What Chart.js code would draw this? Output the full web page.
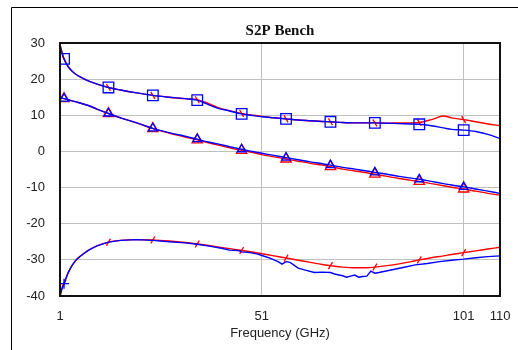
<!DOCTYPE html>
<html>
<head>
<meta charset="utf-8">
<title>S2P Bench</title>
<script src="https://cdn.jsdelivr.net/npm/chart.js@4.4.1/dist/chart.umd.min.js"></script>
<style>
  body { margin: 0; background: #fff; }
  #chart { display: block; }
</style>
</head>
<body>
<canvas id="chart" width="518" height="350"></canvas>
<script>
// Frequency grid (GHz) shared by the smooth traces
const freq = [1, 1.5, 2, 3, 4, 5, 6, 8, 10, 13, 16, 20, 24, 28, 32, 35, 37, 40, 43, 46, 49, 51, 54, 57, 60, 63, 66, 68, 71, 74, 77, 79, 82, 85, 88, 90, 93, 96, 98, 101, 104, 107, 110];

// Upper trace (squares = measured, red = simulated)
const upperMeas = [29.5, 27.3, 25.6, 23.5, 22.2, 21.3, 20.6, 19.5, 18.7, 17.7, 17.0, 16.2, 15.5, 15.0, 14.6, 14.2, 13.3, 12.0, 11.2, 10.4, 9.9, 9.6, 9.3, 9.0, 8.7, 8.5, 8.3, 8.2, 8.0, 7.9, 7.9, 7.9, 7.8, 7.7, 7.6, 7.5, 7.1, 6.5, 6.1, 5.9, 5.5, 4.7, 3.6];
const upperSim = [29.5, 27.3, 25.6, 23.5, 22.2, 21.3, 20.6, 19.5, 18.7, 17.7, 17.0, 16.2, 15.5, 15.0, 14.6, 14.3, 13.6, 12.2, 11.3, 10.5, 10.0, 9.7, 9.3, 9.0, 8.7, 8.5, 8.3, 8.2, 8.0, 7.9, 7.9, 7.9, 7.8, 7.9, 7.9, 8.0, 8.8, 9.8, 9.3, 8.8, 8.2, 7.6, 7.1];

// Middle trace (triangles)
const midMeas = [14.8, 14.7, 14.6, 14.3, 14.0, 13.7, 13.4, 12.7, 11.8, 10.5, 9.3, 7.9, 6.4, 5.2, 4.2, 3.4, 2.8, 2.1, 1.3, 0.6, -0.1, -0.5, -1.1, -1.7, -2.3, -2.9, -3.4, -3.8, -4.4, -4.9, -5.4, -5.8, -6.3, -6.9, -7.4, -7.7, -8.3, -8.9, -9.3, -9.8, -10.4, -11.0, -11.6];
const midSim = [14.8, 14.7, 14.6, 14.3, 14.0, 13.7, 13.4, 12.7, 11.8, 10.5, 9.3, 7.9, 6.3, 5.1, 4.0, 3.2, 2.6, 1.8, 1.0, 0.3, -0.4, -0.9, -1.5, -2.1, -2.7, -3.3, -3.8, -4.2, -4.9, -5.4, -5.9, -6.3, -6.9, -7.5, -8.0, -8.3, -8.9, -9.5, -9.9, -10.4, -11.0, -11.6, -12.1];

// Lower trace, simulated (smooth)
const lowSim = [-40, -37.8, -36.5, -33.6, -31.5, -30.0, -29.0, -27.4, -26.2, -25.1, -24.6, -24.4, -24.5, -24.8, -25.2, -25.6, -25.9, -26.4, -26.9, -27.4, -27.9, -28.3, -28.9, -29.5, -30.1, -30.7, -31.3, -31.6, -32.0, -32.2, -32.2, -32.0, -31.6, -31.1, -30.5, -30.0, -29.4, -28.9, -28.5, -28.0, -27.5, -27.0, -26.5];

// Lower trace, measured (noisy, own frequency grid)
const lowMeasFreq = [1, 1.5, 2, 3, 4, 5, 6, 8, 10, 13, 16, 20, 24, 28, 32, 35, 38, 41, 43, 45, 46, 48, 50, 51, 53, 55, 56, 57, 58, 60, 62, 64, 66, 68, 69, 71, 72, 73, 74, 75, 76, 77, 78, 79, 80, 83, 86, 89, 92, 95, 98, 101, 104, 107, 110];
const lowMeas = [-40, -38, -36.6, -33.6, -31.5, -30.0, -29.0, -27.4, -26.2, -25.1, -24.6, -24.4, -24.6, -25.0, -25.3, -25.7, -26.2, -26.8, -27.3, -27.4, -27.8, -28.0, -28.4, -28.8, -29.5, -30.5, -31.2, -30.5, -30.7, -32.3, -32.9, -33.5, -33.4, -33.5, -33.9, -34.4, -34.8, -34.5, -34.2, -34.8, -34.6, -34.5, -33.1, -33.7, -33.5, -32.8, -32.1, -31.4, -31.0, -30.5, -30.1, -29.8, -29.4, -29.1, -28.9];

// Marker frequencies
const markerFreqs = [2, 13, 24, 35, 46, 57, 68, 79, 90, 101];
const lowMeasMarkers = [2];

// Axis ticks
const xTicks = [1, 51, 101, 110];
const yMin = -40, yMax = 30, yStep = 10;

const BLUE = '#0000ff';
const RED = '#ff0000';

function pts(xs, ys) {
  return xs.map((x, i) => ({ x: x, y: ys[i] }));
}

function markerRadius(marks, r) {
  return ctx => {
    const p = ctx.raw;
    return p && marks.includes(p.x) ? r : 0;
  };
}

function trace(label, xs, ys, color, style, marks, r, extra) {
  return Object.assign({
    label: label,
    data: pts(xs, ys),
    borderColor: color,
    backgroundColor: 'rgba(0,0,0,0)',
    borderWidth: 1.4,
    pointStyle: style,
    pointRadius: markerRadius(marks, r),
    pointHoverRadius: 0,
    pointBorderColor: color,
    pointBorderWidth: 1.3,
    cubicInterpolationMode: 'monotone',
    fill: false
  }, extra || {});
}

// Outer frame and plot border
const framePlugin = {
  id: 'frame',
  beforeDraw(chart) {
    const c = chart.ctx;
    c.save();
    c.strokeStyle = '#000';
    c.lineWidth = 1;
    c.beginPath();
    c.moveTo(11.5, 350);
    c.lineTo(11.5, 7.5);
    c.lineTo(518, 7.5);
    c.stroke();
    c.restore();
  },
  afterDraw(chart) {
    const a = chart.chartArea;
    const c = chart.ctx;
    c.save();
    c.strokeStyle = '#111';
    c.lineWidth = 2;
    c.strokeRect(a.left, a.top, a.right - a.left, a.bottom - a.top);
    c.restore();
  }
};

new Chart(document.getElementById('chart'), {
  type: 'line',
  data: {
    datasets: [
      trace('Upper meas', freq, upperMeas, BLUE, 'rect', markerFreqs, 7.5),
      trace('Mid meas', freq, midMeas, BLUE, 'triangle', markerFreqs, 5),
      trace('Low meas', lowMeasFreq, lowMeas, BLUE, 'cross', lowMeasMarkers, 5, { cubicInterpolationMode: 'default', tension: 0 }),
      trace('Upper sim', freq, upperSim, RED, 'line', markerFreqs, 4, { pointRotation: 60 }),
      trace('Mid sim', freq, midSim, RED, 'triangle', markerFreqs, 6),
      trace('Low sim', freq, lowSim, RED, 'line', markerFreqs, 4, { pointRotation: -60 })
    ]
  },
  options: {
    responsive: false,
    animation: false,
    devicePixelRatio: 1,
    layout: { padding: { left: 0, right: 18, top: 0, bottom: 0 } },
    plugins: {
      legend: { display: false },
      tooltip: { enabled: false },
      title: {
        display: true,
        fullSize: false,
        text: 'S2P Bench',
        color: '#111',
        font: { family: 'Liberation Serif', size: 15, weight: 'bold', lineHeight: 1.2 },
        padding: { top: 22, bottom: 3 }
      }
    },
    scales: {
      x: {
        type: 'linear',
        min: 1,
        max: 110,
        afterBuildTicks: scale => { scale.ticks = xTicks.map(v => ({ value: v })); },
        afterFit: scale => {
          scale.height = 54;
          scale.paddingLeft = 0;
          scale.paddingRight = 0;
        },
        grid: { color: '#c0c0c0', lineWidth: 1, drawTicks: false },
        border: { display: false },
        ticks: {
          color: '#222',
          padding: 13,
          maxRotation: 0,
          autoSkip: false,
          font: { family: 'Liberation Sans', size: 13 }
        },
        title: {
          display: true,
          text: 'Frequency (GHz)',
          color: '#222',
          font: { family: 'Liberation Sans', size: 13 },
          padding: { top: 0, bottom: 9 }
        }
      },
      y: {
        min: yMin,
        max: yMax,
        afterFit: scale => { scale.width = 60; },
        grid: { color: '#c0c0c0', lineWidth: 1, drawTicks: false },
        border: { display: false },
        ticks: {
          stepSize: yStep,
          color: '#222',
          padding: 15,
          font: { family: 'Liberation Sans', size: 13 }
        }
      }
    }
  },
  plugins: [framePlugin]
});
</script>
</body>
</html>
